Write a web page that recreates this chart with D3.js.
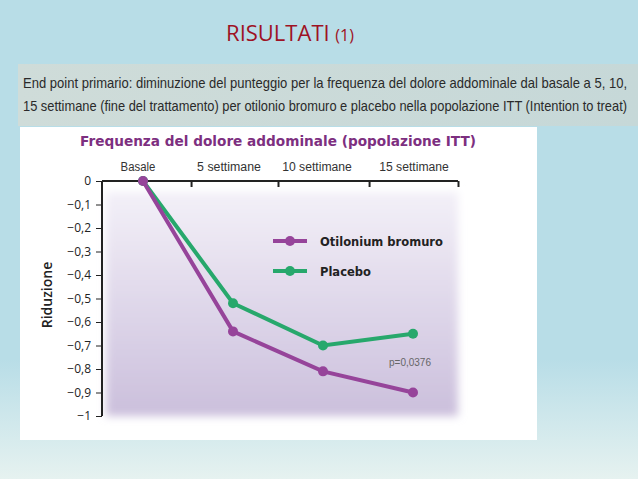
<!DOCTYPE html>
<html><head><meta charset="utf-8">
<script src="https://cdn.jsdelivr.net/npm/d3@7"></script>
<style>body{margin:0;}svg{display:block;}</style></head>
<body><svg id="c" width="638" height="479"></svg>
<script>
const weeks = [0, 5, 10, 15];
const categories = ["Basale", "5 settimane", "10 settimane", "15 settimane"];
const otilonium = [0, -0.64, -0.81, -0.90];
const placebo = [0, -0.52, -0.70, -0.65];
const yTicks = [0, -0.1, -0.2, -0.3, -0.4, -0.5, -0.6, -0.7, -0.8, -0.9, -1];
const topTickWeeks = [2.67, 7.5, 12.56, 17.5];

const svg = d3.select("#c");
const defs = svg.append("defs");
const bg = defs.append("linearGradient").attr("id","bg").attr("x1",0).attr("y1",0).attr("x2",0).attr("y2",1);
bg.append("stop").attr("offset","0.75").attr("stop-color","#b8dde7");
bg.append("stop").attr("offset","1").attr("stop-color","#e6f2f0");
svg.append("rect").attr("width",638).attr("height",479).attr("fill","url(#bg)");

svg.append("text").attr("x",290).attr("y",41).attr("text-anchor","middle")
  .attr("font-family","Open Sans, sans-serif").attr("fill","#9e1224").attr("font-size",22)
  .text("RISULTATI ").append("tspan").attr("font-size",16).text("(1)");

const tb = defs.append("linearGradient").attr("id","tb").attr("x1",0).attr("y1",0).attr("x2",1).attr("y2",0);
tb.append("stop").attr("offset","0").attr("stop-color","#cfdcd9");
tb.append("stop").attr("offset","1").attr("stop-color","#c6d8d8");
svg.append("rect").attr("x",18).attr("y",64).attr("width",620).attr("height",62).attr("fill","url(#tb)");
const lines = ["End point primario: diminuzione del punteggio per la frequenza del dolore addominale dal basale a 5, 10,",
 "15 settimane (fine del trattamento) per otilonio bromuro e placebo nella popolazione ITT (Intention to treat)"];
lines.forEach((t,i)=>svg.append("text").attr("x",23).attr("y",88+i*23)
  .attr("font-family","Liberation Sans Narrow, Liberation Sans, sans-serif").attr("font-size",15)
  .attr("fill","#2a2a2a").attr("textLength",604).attr("lengthAdjust","spacingAndGlyphs").text(t));

svg.append("rect").attr("x",20).attr("y",127).attr("width",517).attr("height",313).attr("fill","#ffffff");
const pg = defs.append("linearGradient").attr("id","pg").attr("x1",0).attr("y1",0).attr("x2",0).attr("y2",1);
pg.append("stop").attr("offset","0").attr("stop-color","#f3f0f8");
pg.append("stop").attr("offset","1").attr("stop-color","#cbbfdc");
defs.append("filter").attr("id","blur").append("feGaussianBlur").attr("stdDeviation",4);
svg.append("rect").attr("x",106).attr("y",192).attr("width",352).attr("height",224).attr("fill","url(#pg)").attr("filter","url(#blur)");

svg.append("text").attr("x",278).attr("y",146).attr("text-anchor","middle")
  .attr("font-family","DejaVu Sans, sans-serif").attr("font-weight","bold").attr("font-size",14.5)
  .attr("fill","#7d2f80").attr("textLength",396).attr("lengthAdjust","spacingAndGlyphs")
  .text("Frequenza del dolore addominale (popolazione ITT)");

const x = d3.scaleLinear().domain([0,15]).range([143,413]);
const y = d3.scaleLinear().domain([0,-1]).range([181,416]);

const ya = svg.append("g").attr("transform","translate(102,0)")
  .call(d3.axisLeft(y).tickValues(yTicks).tickSize(6).tickPadding(5)
    .tickFormat(d=> d===0?"0":d===-1?"\u22121":"\u2212"+d3.format(".1f")(-d).replace(".",",")));
ya.select(".domain").attr("stroke","#222").attr("stroke-width",2).attr("d","M0,181V416");
ya.selectAll("text").attr("font-family","Open Sans, sans-serif").attr("font-size",12).attr("fill","#222");
ya.selectAll("line").attr("stroke","#222");

const xa = svg.append("g").attr("transform","translate(0,181)")
  .call(d3.axisTop(x).tickValues(topTickWeeks).tickSize(-6).tickFormat(""));
xa.select(".domain").attr("stroke","#222").attr("stroke-width",2).attr("d","M102,0H458");
xa.selectAll("line").attr("stroke","#222").attr("stroke-width",2);
const labelOffsets = [-5,-4,-6,1];
categories.forEach((c,i)=>svg.append("text").attr("x",x(weeks[i])+labelOffsets[i]).attr("y",171)
  .attr("text-anchor","middle").attr("font-family","Liberation Sans Narrow, sans-serif").attr("font-size",12.5)
  .attr("fill","#333").attr("textLength",c.length*5.8).attr("lengthAdjust","spacingAndGlyphs").text(c));

svg.append("text").attr("transform","translate(52,295) rotate(-90)").attr("text-anchor","middle")
  .attr("font-family","Open Sans, sans-serif").attr("font-size",14).attr("font-weight","600").attr("fill","#222").text("Riduzione");

const line = d3.line().x((d,i)=>x(weeks[i])).y(d=>y(d));
[[placebo,"#27a86c"],[otilonium,"#96449a"]].forEach(([s,col])=>{
  svg.append("path").attr("d",line(s)).attr("fill","none").attr("stroke",col).attr("stroke-width",4);
  svg.selectAll(null).data(s).enter().append("circle").attr("cx",(d,i)=>x(weeks[i])).attr("cy",d=>y(d)).attr("r",5).attr("fill",col);
});

[["Otilonium bromuro","#96449a",241],["Placebo","#27a86c",271]].forEach(([t,col,yy])=>{
  svg.append("line").attr("x1",273).attr("x2",307).attr("y1",yy).attr("y2",yy).attr("stroke",col).attr("stroke-width",4);
  svg.append("circle").attr("cx",290).attr("cy",yy).attr("r",5).attr("fill",col);
  svg.append("text").attr("x",320).attr("y",yy+4.5).attr("font-family","DejaVu Sans, sans-serif").attr("font-weight","bold")
    .attr("font-size",11.5).attr("fill","#222").text(t);
});
svg.append("text").attr("x",389).attr("y",366).attr("font-family","Liberation Sans Narrow, sans-serif").attr("font-size",10).attr("fill","#666").text("p=0,0376");
</script></body></html>
